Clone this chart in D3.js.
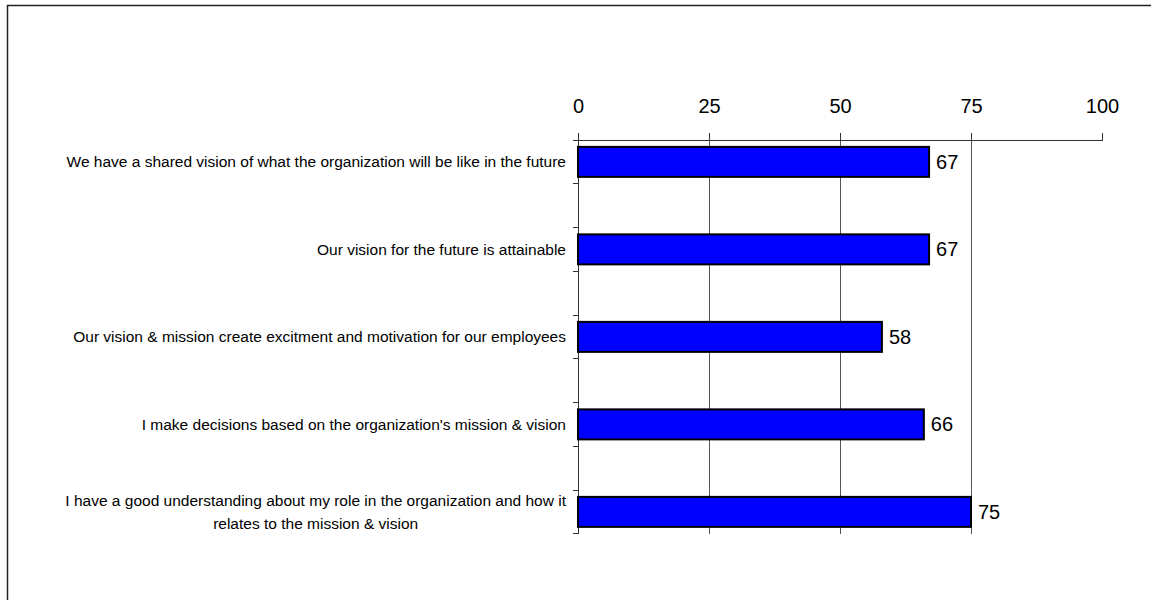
<!DOCTYPE html>
<html>
<head>
<meta charset="utf-8">
<script src="https://cdn.jsdelivr.net/npm/d3@7"></script>
<style>
  html, body { margin: 0; padding: 0; background: #fff; overflow: hidden; }
  svg { display: block; }
  text { font-family: "Liberation Sans", Arial, sans-serif; fill: #000; }
</style>
</head>
<body>
<svg id="chart" width="1151" height="600"></svg>
<script>
// Survey statements and their scores (percent agreement)
const categories = [
  "We have a shared vision of what the organization will be like in the future",
  "Our vision for the future is attainable",
  "Our vision & mission create excitment and motivation for our employees",
  "I make decisions based on the organization's mission & vision",
  "I have a good understanding about my role in the organization and how it relates to the mission & vision"
];
const scores = [67, 67, 58, 66, 75];
const xTicks = [0, 25, 50, 75, 100];

const svg = d3.select("#chart");

// Outer frame (top and left edges; the rest runs off the page)
svg.append("path")
  .attr("d", "M7.5,620V5.5H1170")
  .attr("fill", "none").attr("stroke", "#222").attr("stroke-width", 1.5);

const x = d3.scaleLinear().domain([0, 100]).range([578, 1102]);
// Each statement gets a band; the bar sits in the upper half, the lower half is a spacer
const y = d3.scaleBand().domain(categories).range([140, 140 + 87.5 * categories.length]);
const bw = y.bandwidth();
const yTop = y.range()[0];
const yBottom = y(categories[categories.length - 1]) + bw / 2;

// Vertical gridlines
svg.append("g")
  .selectAll("line")
  .data(xTicks.filter(d => d > 0 && d < 100))
  .join("line")
  .attr("x1", d => x(d)).attr("x2", d => x(d))
  .attr("y1", yTop).attr("y2", yBottom)
  .attr("stroke", "#555").attr("stroke-width", 1)
  .attr("shape-rendering", "crispEdges");

// Top value axis
const xAxis = svg.append("g")
  .attr("transform", `translate(0,${yTop})`)
  .call(d3.axisTop(x).tickValues(xTicks).tickSize(7).tickPadding(20).tickSizeOuter(0));
xAxis.select(".domain").attr("stroke", "#333").attr("shape-rendering", "crispEdges");
xAxis.selectAll(".tick line").attr("stroke", "#333").attr("shape-rendering", "crispEdges");
xAxis.selectAll(".tick text")
  .attr("font-size", 20)
  .style("font-family", '"Liberation Sans", Arial, sans-serif');

// Category axis line with tick marks at every half band
const tickYs = [];
categories.forEach(c => { tickYs.push(y(c)); tickYs.push(y(c) + bw / 2); });
tickYs.push(yBottom);
const catAxis = svg.append("g").attr("shape-rendering", "crispEdges");
catAxis.append("line")
  .attr("x1", x(0)).attr("x2", x(0))
  .attr("y1", yTop).attr("y2", yBottom)
  .attr("stroke", "#333");
catAxis.selectAll("line.tick")
  .data(tickYs)
  .join("line")
  .attr("class", "tick")
  .attr("x1", x(0) - 5).attr("x2", x(0))
  .attr("y1", d => d).attr("y2", d => d)
  .attr("stroke", "#333");

// Bars
svg.append("g")
  .selectAll("rect")
  .data(categories)
  .join("rect")
  .attr("x", x(0))
  .attr("y", c => y(c) + bw / 4 - 15)
  .attr("width", (c, i) => x(scores[i]) - x(0))
  .attr("height", 30)
  .attr("fill", "#0000ff")
  .attr("stroke", "#000")
  .attr("stroke-width", 2);

// Value labels
svg.append("g")
  .selectAll("text")
  .data(categories)
  .join("text")
  .attr("x", (c, i) => x(scores[i]) + 7)
  .attr("y", c => y(c) + bw / 4)
  .attr("dy", "0.35em")
  .attr("font-size", 20)
  .text((c, i) => scores[i]);

// Category labels, wrapped and centred within a right-aligned block
const labelRight = 566;
const maxWidth = 515;
const lineH = 22.5;
const labels = svg.append("g").attr("font-size", 15.5);
categories.forEach(c => {
  const words = c.split(" ");
  const probe = labels.append("text");
  const lines = [];
  let cur = [];
  words.forEach(w => {
    const trial = cur.concat([w]).join(" ");
    probe.text(trial);
    if (probe.node().getComputedTextLength() > maxWidth && cur.length) {
      lines.push(cur.join(" "));
      cur = [w];
    } else {
      cur.push(w);
    }
  });
  lines.push(cur.join(" "));
  const widths = lines.map(l => { probe.text(l); return probe.node().getComputedTextLength(); });
  probe.remove();
  const blockW = d3.max(widths);
  const cx = labelRight - blockW / 2;
  const cy = y(c) + bw / 4;
  const t = labels.append("text")
    .attr("text-anchor", "middle")
    .attr("x", cx);
  lines.forEach((l, k) => {
    t.append("tspan")
      .attr("x", cx)
      .attr("y", cy + (k - (lines.length - 1) / 2) * lineH)
      .attr("dy", "0.35em")
      .text(l);
  });
});
</script>
</body>
</html>
